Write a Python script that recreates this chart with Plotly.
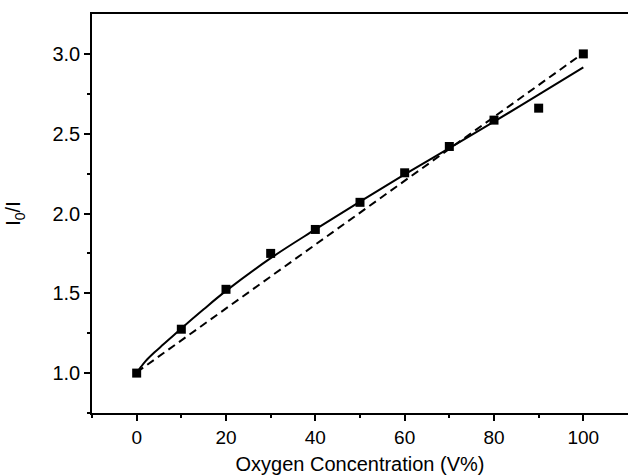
import plotly.graph_objects as go

oxygen = [0, 10, 20, 30, 40, 50, 60, 70, 80, 90, 100]
ratio = [1.00, 1.275, 1.525, 1.75, 1.90, 2.07, 2.255, 2.42, 2.585, 2.66, 3.00]

fit_x = [0, 1, 2, 4, 6, 10, 15, 20, 30, 40, 50, 60, 70, 80, 90, 100]
fit_y = [1.00, 1.04, 1.075, 1.13, 1.18, 1.28, 1.40, 1.515, 1.72, 1.90, 2.075, 2.245, 2.41, 2.575, 2.745, 2.915]

lin_x = [0, 100]
lin_y = [1.005, 3.005]

fig = go.Figure()
fig.add_trace(go.Scatter(x=lin_x, y=lin_y, mode="lines",
                         line=dict(color="black", width=2, dash="8px,5px")))
fig.add_trace(go.Scatter(x=fit_x, y=fit_y, mode="lines",
                         line=dict(color="black", width=2, shape="spline")))
fig.add_trace(go.Scatter(x=oxygen, y=ratio, mode="markers",
                         marker=dict(symbol="square", size=9, color="black")))

fam = "Liberation Sans, Arial, sans-serif"
xtickfont = dict(family=fam, size=19, color="black")
ytickfont = dict(family=fam, size=20, color="black")
titlefont = dict(family=fam, size=20, color="black")
fig.update_layout(
    width=628, height=476,
    margin=dict(l=92, r=0, t=14, b=63),
    paper_bgcolor="white", plot_bgcolor="white",
    showlegend=False,
    font=xtickfont,
    xaxis=dict(range=[-10, 110], tickvals=[0, 20, 40, 60, 80, 100],
               ticks="outside", ticklen=6, tickwidth=1.5, tickcolor="black",
               showline=True, linecolor="black", linewidth=2, mirror=True,
               showgrid=False, zeroline=False, automargin=False,
               minor=dict(tickvals=[-10, 10, 30, 50, 70, 90], ticks="outside",
                          ticklen=3, tickwidth=1.5, tickcolor="black"),
               title=dict(text="Oxygen Concentration (V%)", font=titlefont, standoff=10),
               tickfont=xtickfont),
    yaxis=dict(range=[0.75, 3.25], tickvals=[1.0, 1.5, 2.0, 2.5, 3.0],
               ticktext=["1.0", "1.5", "2.0", "2.5", "3.0"],
               ticks="outside", ticklen=6, tickwidth=1.5, tickcolor="black",
               showline=True, linecolor="black", linewidth=1.5,
               showgrid=False, zeroline=False, automargin=False,
               minor=dict(tickvals=[0.75, 1.25, 1.75, 2.25, 2.75], ticks="outside",
                          ticklen=3, tickwidth=1.5, tickcolor="black"),
               title=dict(text="I<sub>0</sub>/I", font=titlefont, standoff=26),
               tickfont=ytickfont),
)
fig.write_html("out.html", config={"displayModeBar": False},
               post_script="document.body.style.margin='0';document.body.style.overflow='hidden';")
